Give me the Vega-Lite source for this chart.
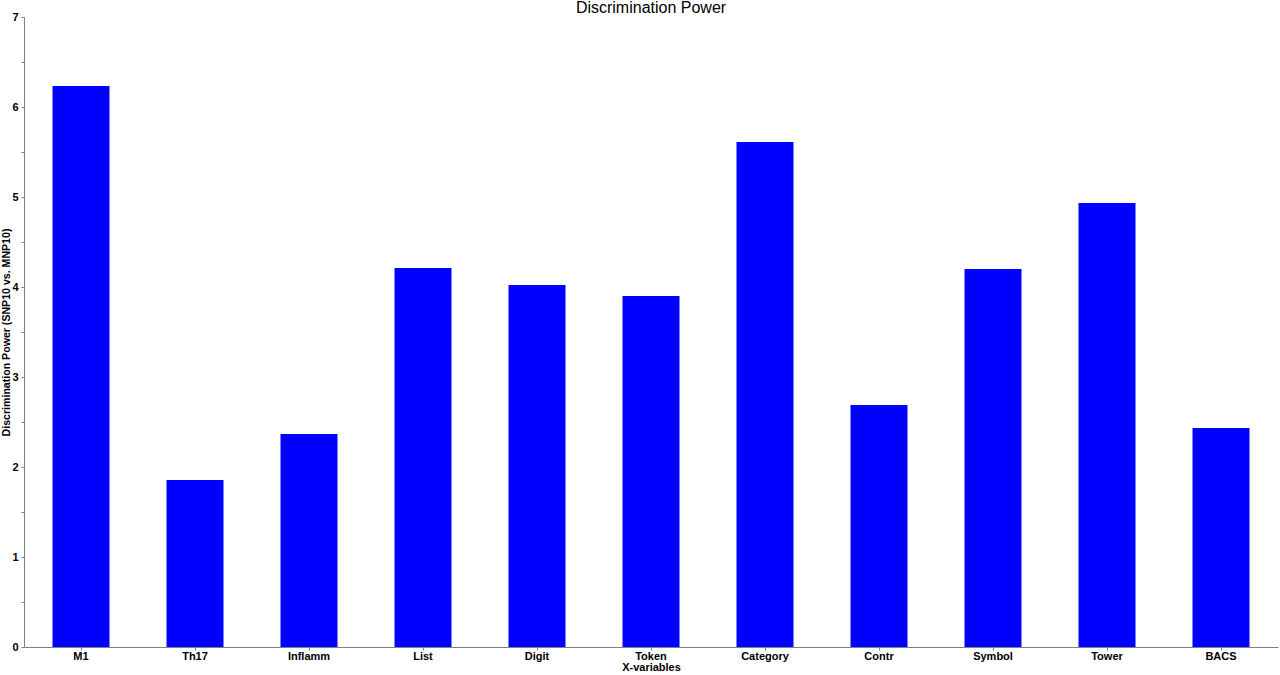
{
  "$schema": "https://vega.github.io/schema/vega-lite/v6.json",
  "width": 1254,
  "height": 630,
  "autosize": {"type": "none"},
  "padding": {"left": 24, "top": 17, "right": 2, "bottom": 28},
  "background": "white",
  "title": {"text": "Discrimination Power", "font": "Liberation Sans", "fontSize": 16, "fontWeight": "normal", "color": "black", "anchor": "middle", "offset": 1, "dy": 6},
  "data": {"values": [
    {"variable": "M1", "power": 6.233},
    {"variable": "Th17", "power": 1.856},
    {"variable": "Inflamm", "power": 2.367},
    {"variable": "List", "power": 4.211},
    {"variable": "Digit", "power": 4.022},
    {"variable": "Token", "power": 3.9},
    {"variable": "Category", "power": 5.611},
    {"variable": "Contr", "power": 2.689},
    {"variable": "Symbol", "power": 4.2},
    {"variable": "Tower", "power": 4.933},
    {"variable": "BACS", "power": 2.433}
  ]},
  "mark": {"type": "bar", "color": "#0000ff"},
  "encoding": {
    "x": {
      "field": "variable", "type": "nominal", "sort": null,
      "scale": {"paddingInner": 0.5, "paddingOuter": 0.25},
      "axis": {"title": "X-variables", "titleFont": "Liberation Sans", "titleFontSize": 11, "titleFontWeight": "bold", "titlePadding": 0,
        "labelAngle": 0, "labelFont": "Liberation Sans", "labelFontSize": 11, "labelFontWeight": "bold", "labelColor": "black", "labelPadding": 0,
        "domainColor": "#808080", "tickColor": "#808080", "tickSize": 3, "grid": false}
    },
    "y": {
      "field": "power", "type": "quantitative",
      "scale": {"domain": [0, 7], "nice": false},
      "axis": {"title": "Discrimination Power (SNP10 vs. MNP10)", "titleFont": "Liberation Sans", "titleFontSize": 10.6, "titleFontWeight": "bold",
        "titleX": -13, "titleBaseline": "bottom",
        "values": [0, 0.5, 1, 1.5, 2, 2.5, 3, 3.5, 4, 4.5, 5, 5.5, 6, 6.5, 7],
        "labelExpr": "datum.value % 1 === 0 ? format(datum.value, 'd') : ''",
        "labelFont": "Liberation Sans", "labelFontSize": 11, "labelFontWeight": "bold", "labelColor": "black", "labelPadding": 3,
        "domainColor": "#808080", "tickColor": "#808080", "tickSize": 3, "grid": false}
    }
  },
  "config": {"view": {"stroke": null}}
}
